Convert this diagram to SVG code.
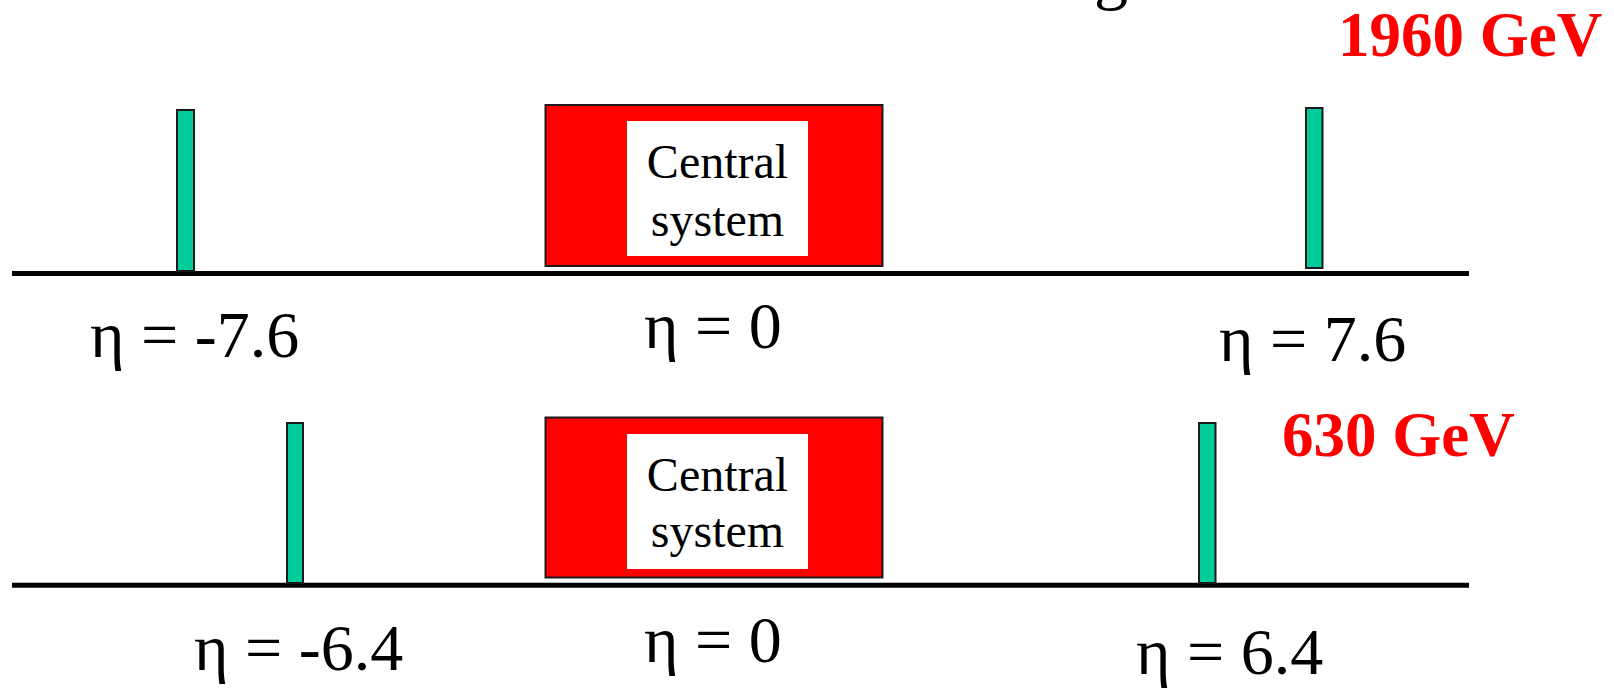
<svg xmlns="http://www.w3.org/2000/svg" width="1614" height="688" viewBox="0 0 1614 688">
<style>
.bar{fill:#00CC99;stroke:#1a1a1a;stroke-width:2}
.box{fill:#FF0000;stroke:#1a1a1a;stroke-width:2}
.inner{fill:#FFFFFF}
.lbl{font-family:"Liberation Serif","Times New Roman",serif;fill:#000}
.cs{font-size:48px;text-anchor:middle}
.eta{font-size:66px}
.gev{font-family:"Liberation Serif","Times New Roman",serif;font-weight:bold;font-size:63px;fill:#FF0000}
.axis{stroke:#000;stroke-width:5}
</style>
<rect width="1614" height="688" fill="#FFFFFF"/>
<text class="lbl" x="1094" y="-3" font-size="68">g</text>
<g id="axes">
<line class="axis" x1="12" y1="273.5" x2="1469" y2="273.5"/>
<line class="axis" x1="12" y1="585.3" x2="1469" y2="585.3"/>
</g>
<g id="top-energy"><text class="gev" x="1338" y="56">1960 GeV</text></g>
<g id="top-left-detector"><rect class="bar" x="177" y="110" width="17" height="161"/></g>
<g id="top-right-detector"><rect class="bar" x="1306" y="108" width="16.5" height="160"/></g>
<g id="top-central">
<rect class="box" x="545.5" y="105" width="337" height="161"/>
<rect class="inner" x="627" y="121" width="181" height="135"/>
<text class="lbl cs" x="717.5" y="178">Central</text>
<text class="lbl cs" x="717.5" y="235.5">system</text>
</g>
<g id="top-labels">
<text class="lbl eta" x="90" y="357">η = -7.6</text>
<text class="lbl eta" x="644" y="348">η = 0</text>
<text class="lbl eta" x="1219" y="361">η = 7.6</text>
</g>
<g id="bottom-energy"><text class="gev" x="1282" y="456">630 GeV</text></g>
<g id="bottom-left-detector"><rect class="bar" x="287" y="423" width="16" height="160"/></g>
<g id="bottom-right-detector"><rect class="bar" x="1199" y="423" width="16.5" height="160"/></g>
<g id="bottom-central">
<rect class="box" x="545.5" y="417.5" width="337" height="160"/>
<rect class="inner" x="627" y="434" width="181" height="135"/>
<text class="lbl cs" x="717.5" y="490.5">Central</text>
<text class="lbl cs" x="717.5" y="547">system</text>
</g>
<g id="bottom-labels">
<text class="lbl eta" x="194" y="670">η = -6.4</text>
<text class="lbl eta" x="644" y="662">η = 0</text>
<text class="lbl eta" x="1136" y="674">η = 6.4</text>
</g>
</svg>
